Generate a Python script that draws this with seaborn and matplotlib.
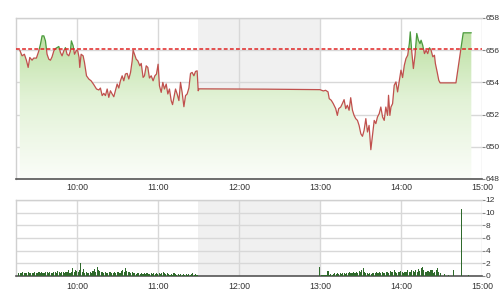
import numpy as np
import pandas as pd
import matplotlib
matplotlib.use("Agg")
import matplotlib.pyplot as plt
import seaborn as sns
from matplotlib.colors import LinearSegmentedColormap
from matplotlib.patches import Rectangle

# ---------------- data (minutes after 09:00) ----------------
price_minutes = [17.8, 19.5, 21.2, 22.7, 24.0, 25.2, 26.9, 28.1, 30.1, 31.9, 33.1, 34.3, 35.6, 36.8,
                 38.0, 39.3, 40.5, 41.7, 43.0, 44.2, 45.4, 46.7, 47.9, 49.1, 50.4, 51.6, 52.8, 54.1,
                 55.3, 56.0, 57.3, 58.3, 59.8, 60.7, 61.7, 62.2, 63.2, 64.7, 65.7, 67.2, 68.9, 70.6,
                 72.6, 74.6, 76.3, 77.5, 78.8, 80.0, 81.2, 82.5, 83.7, 84.9, 86.2, 87.4, 88.6, 89.9,
                 91.1, 92.3, 93.6, 94.8, 96.0, 97.3, 98.5, 99.8, 101.0, 101.7, 102.7, 104.0, 105.2,
                 106.7, 107.7, 109.1, 110.1, 111.4, 112.6, 113.8, 115.1, 116.5, 117.8, 119.0, 120.2,
                 121.2, 122.5, 123.7, 124.9, 126.2, 127.4, 128.6, 129.9, 130.9, 131.9, 133.1, 134.3,
                 135.6, 136.8, 138.0, 139.3, 140.5, 141.7, 143.0, 144.2, 145.4, 146.7, 147.9, 149.1,
                 149.9, 150.5, 200.0, 240.0,
                 242.5, 244.2, 246.0, 246.9, 248.4, 249.9, 251.7, 252.9, 253.9, 255.4, 256.6, 257.9,
                 259.1, 260.3, 261.6, 262.8, 264.1, 265.3, 266.5, 267.8, 269.0, 270.3, 271.5, 272.7,
                 274.0, 275.2, 276.4, 277.7, 278.9, 280.2, 281.4, 282.6, 283.9, 285.1, 286.4, 287.6,
                 288.8, 290.1, 290.8, 291.8, 292.6, 293.8, 295.0, 296.3, 297.5, 298.8, 300.0, 301.2,
                 302.5, 303.7, 305.0, 306.2, 306.9, 307.9, 309.2, 310.4, 311.7, 312.9, 314.1, 314.9,
                 316.1, 317.4, 318.6, 319.8, 321.1, 322.3, 323.6, 324.8, 325.5, 326.8, 328.0, 329.0,
                 340.7, 346.1, 352.1]
prices = [656.00, 655.65, 655.75, 655.38, 654.93, 655.55, 655.38, 655.51, 655.51, 655.96, 656.37,
          656.89, 656.89, 656.58, 655.75, 655.44, 655.38, 655.59, 655.96, 656.10, 656.16, 656.23,
          655.86, 655.65, 655.96, 656.16, 655.75, 655.65, 655.96, 656.58, 656.27, 655.75, 656.00,
          655.96, 655.55, 654.93, 655.75, 655.65, 655.24, 654.41, 654.21, 654.10, 653.86, 653.59,
          653.53, 653.65, 653.18, 653.32, 653.18, 653.59, 653.07, 653.48, 653.28, 653.11, 653.48,
          653.90, 653.65, 654.10, 654.41, 654.10, 654.52, 654.56, 654.21, 654.62, 655.34, 656.00,
          655.75, 655.44, 655.34, 655.03, 655.18, 654.31, 654.41, 655.03, 654.93, 654.27, 654.41,
          654.10, 654.41, 654.52, 655.13, 653.79, 653.38, 654.00, 653.59, 653.90, 653.28, 653.59,
          652.87, 652.62, 653.07, 653.59, 653.28, 652.87, 654.00, 653.38, 652.49, 653.18, 653.28,
          653.65, 654.56, 654.62, 654.41, 654.68, 654.72, 653.48, 653.60, 653.58, 653.55,
          653.47, 653.51, 653.41, 652.99, 652.89, 652.68, 652.37, 651.95, 652.37, 652.47, 652.68,
          652.93, 652.37, 652.58, 652.27, 653.05, 652.27, 651.95, 651.75, 651.64, 651.33, 650.81,
          650.65, 651.02, 651.75, 650.92, 651.33, 649.82, 650.71, 651.64, 651.44, 651.85, 652.06,
          652.47, 651.85, 651.64, 652.47, 651.95, 653.20, 651.95, 652.47, 652.68, 653.82, 654.03,
          653.41, 654.13, 654.76, 654.30, 655.07, 655.48, 655.69, 656.41, 657.14, 656.00, 654.86,
          655.69, 657.04, 656.62, 656.41, 656.62, 656.31, 655.79, 656.00, 655.79, 656.15, 656.00,
          655.59, 655.69, 655.17, 654.65, 654.13, 653.97, 653.97, 657.08, 657.08]
ref_price = 656.1

vol_am_start = 17
vol_am = [0.4, 0.5, 0.4, 0.6, 0.5, 0.4, 0.5, 0.6, 0.4, 0.5, 0.4, 0.5, 0.6,
          0.4, 0.5, 0.7, 0.4, 0.6, 0.5, 0.4, 0.6, 0.7, 0.5,
          0.6, 0.5, 0.4, 0.7, 0.6, 0.5, 0.8, 0.6, 0.5, 0.7,
          0.6, 0.5, 0.7, 0.6, 0.9, 0.5, 0.7, 1.2, 0.6, 1.0,
          0.8, 0.6, 1.0, 2.1, 0.7, 1.1, 0.5, 0.6, 0.4, 0.5,
          0.6, 0.5, 0.8, 1.1, 0.7, 1.4, 1.0, 0.8, 0.6, 0.7,
          0.5, 0.6, 0.4, 0.5, 0.7, 0.6, 0.5, 0.4, 0.6, 0.5,
          0.6, 0.7, 0.5, 0.8, 1.0, 0.6, 1.2, 0.8, 0.7, 0.6,
          0.5, 0.6, 0.4, 0.5, 0.3, 0.4, 0.5, 0.3, 0.4, 0.3,
          0.4, 0.3, 0.4, 0.3, 0.3, 0.4, 0.3, 0.5, 0.3, 0.4,
          0.3, 0.4, 0.3, 0.5, 0.6, 0.4, 0.3, 0.4, 0.3, 0.2,
          0.3, 0.2, 0.4, 0.3, 0.2, 0.3, 0.2, 0.3, 0.2, 0.3,
          0.2, 0.3, 0.2, 0.3, 0.2, 0.3, 0.4, 0.2, 0.3, 0.2]
vol_pm_start = 240
vol_pm = [1.4, 0.2, 0.1, 0.2, 0.1, 0.2, 0.8, 0.2, 0.3, 0.2,
          0.3, 0.4, 0.3, 0.4, 0.3, 0.5, 0.3, 0.4, 0.5, 0.3,
          0.5, 0.4, 0.6, 0.4, 0.5, 0.7, 0.4, 0.6, 0.5, 0.8,
          0.6, 1.0, 1.2, 0.7, 0.5, 0.4, 0.3, 0.4, 0.3, 0.4,
          0.5, 0.4, 0.6, 0.5, 0.7, 0.5, 0.6, 0.4, 0.5, 0.6,
          0.7, 0.5, 0.8, 0.6, 0.7, 0.9, 0.6, 0.5, 0.7, 0.6,
          0.8, 0.6, 0.5, 0.7, 0.6, 0.9, 0.7, 0.6, 1.0, 0.8,
          0.6, 0.9, 0.7, 1.1, 0.8, 1.2, 1.4, 0.9, 0.7, 0.6,
          0.8, 0.6, 0.9, 1.0, 0.5, 0.7, 0.9, 1.2, 0.6, 0.4]
vol_late_minutes = [332, 335, 339, 345, 350]
vol_late = [0.3, 0.2, 1.0, 10.6, 0.1]

tick_minutes = [60, 120, 180, 240, 300, 360]
tick_labels = ["10:00", "11:00", "12:00", "13:00", "14:00", "15:00"]
price_ticks = [648, 650, 652, 654, 656, 658]
vol_ticks = [0, 2, 4, 6, 8, 10, 12]
lunch = (150, 240)

# ---------------- styling ----------------
sns.set_style("white")
plt.rcParams["font.family"] = ["Liberation Sans", "DejaVu Sans"]

fig = plt.figure(figsize=(5.01, 3.00), dpi=100)
ax1 = fig.add_axes([16 / 501, 1 - 179 / 300, (482 - 16) / 501, (179 - 18) / 300])
ax2 = fig.add_axes([16 / 501, 1 - 276 / 300, (482 - 16) / 501, (276 - 200) / 300])

grid_c = "#d8d8d8"
xmin, xmax = 15, 360

def style_axes(ax, yticks):
    ax.set_xlim(xmin, xmax)
    ax.set_ylim(yticks[0], yticks[-1])
    ax.set_xticks(tick_minutes)
    ax.set_xticklabels(tick_labels)
    ax.set_yticks(yticks)
    ax.yaxis.tick_right()
    ax.set_axisbelow(True)
    ax.grid(True, color=grid_c, linewidth=1.0)
    ax.axvspan(*lunch, color="#f0f0f0", zorder=0, linewidth=0)
    for s in ["top", "left", "right"]:
        ax.spines[s].set_color("#d0d0d0")
        ax.spines[s].set_linewidth(1.0)
    ax.spines["right"].set_visible(False)
    ax.spines["bottom"].set_color("#555555")
    ax.spines["bottom"].set_linewidth(1.2)
    ax.tick_params(axis="x", length=0, labelsize=6.3, colors="#333333", pad=4)
    ax.tick_params(axis="y", which="both", right=True, left=False, length=2, width=0.8,
                   color="#888888", labelsize=6.0, labelcolor="#333333", pad=0.5)
    ax.set_xlabel("")
    ax.set_ylabel("")

# ---- price panel ----
df = pd.DataFrame({"t": price_minutes, "p": prices})
poly = ax1.fill_between(df["t"], df["p"], price_ticks[0], facecolor="none", edgecolor="none")
cmap = LinearSegmentedColormap.from_list("g", ["#fbfdf9", "#e2f2d6", "#b4dc97"])
grad = np.linspace(0, 1, 256).reshape(-1, 1)
im = ax1.imshow(grad, extent=[xmin, xmax, price_ticks[0], price_ticks[-1]], origin="lower",
                aspect="auto", cmap=cmap, zorder=1)
path = poly.get_paths()[0]
im.set_clip_path(path, transform=ax1.transData)

sns.lineplot(data=df, x="t", y="p", ax=ax1, color="#c0504d", linewidth=0.9, sort=False,
             estimator=None, zorder=3)
sns.lineplot(data=df, x="t", y="p", ax=ax1, color="#4a9a3c", linewidth=0.9, sort=False,
             estimator=None, zorder=4)
lines = ax1.get_lines()
clip_lo = Rectangle((xmin - 10, 640), 400, ref_price - 640, transform=ax1.transData)
clip_hi = Rectangle((xmin - 10, ref_price), 400, 20, transform=ax1.transData)
lines[-2].set_clip_path(clip_lo)
lines[-1].set_clip_path(clip_hi)

ax1.axhline(ref_price, color="#e02424", linestyle=(0, (2.5, 1.5)), linewidth=1.1, zorder=5)
style_axes(ax1, price_ticks)
ax1.tick_params(axis="x", pad=3)

# ---- volume panel ----
vol_x = list(range(vol_am_start, vol_am_start + len(vol_am))) + \
        list(range(vol_pm_start, vol_pm_start + len(vol_pm))) + vol_late_minutes
vol_y = vol_am + vol_pm + vol_late
vdf = pd.DataFrame({"t": vol_x, "v": vol_y})
sns.barplot(data=vdf, x="t", y="v", ax=ax2, native_scale=True, color="#2f6a2c", width=0.8,
            errorbar=None, linewidth=0, saturation=1, zorder=3)
style_axes(ax2, vol_ticks)

fig.savefig("out.png", dpi=100)
